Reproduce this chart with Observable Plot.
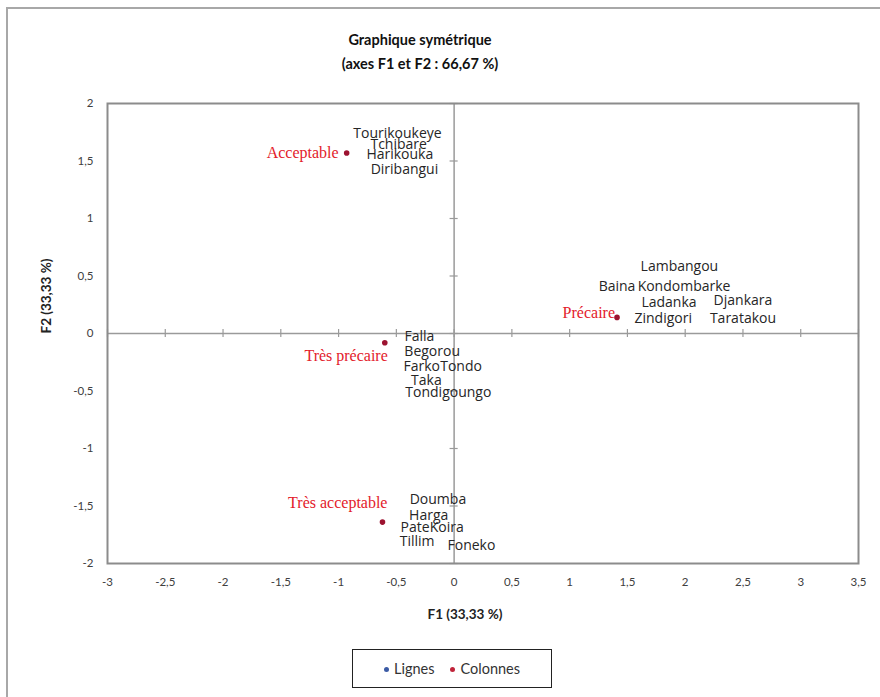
<!DOCTYPE html>
<html><head><meta charset="utf-8">
<script src="https://cdn.jsdelivr.net/npm/d3@7"></script>
<script src="https://cdn.jsdelivr.net/npm/@observablehq/plot@0.6"></script>
<style>
body{margin:0;background:#fff;}
#wrap{position:relative;width:880px;height:697px;overflow:hidden;background:#fff;}
#frame{position:absolute;left:6px;top:7px;width:900px;height:720px;border:2px solid #a8a8a8;box-sizing:border-box;}
#title{position:absolute;left:0;width:840px;top:28px;text-align:center;font:bold 14.5px Lato, sans-serif;line-height:24px;color:#111;}
#chart{position:absolute;left:0;top:0;}
#legend{position:absolute;left:352px;top:649px;width:200px;height:39px;border:1.5px solid #222;box-sizing:border-box;display:flex;align-items:center;justify-content:center;gap:16px;font:14.5px Lato, sans-serif;color:#333;}
.sw{display:inline-block;width:5px;height:5px;border-radius:50%;margin-right:5px;vertical-align:middle;position:relative;top:-1px;}
</style></head>
<body>
<div id="wrap">
  <div id="frame"></div>
  <div id="chart"></div>
  <div id="title">Graphique symétrique<br>(axes F1 et F2 : 66,67 %)</div>
  <div id="legend"><span><span class="sw" style="background:#3b5ba5"></span>Lignes</span><span><span class="sw" style="background:#c0243a"></span>Colonnes</span></div>
</div>
<script>
// Row points (villages)
const rowNames = ["Tourikoukeye","Tchibare","Harikouka","Diribangui","Lambangou","Baina","Kondombarke","Ladanka","Djankara","Zindigori","Taratakou","Falla","Begorou","Farko","Tondo","Taka","Tondigoungo","Doumba","Harga","PateKoira","Tillim","Foneko"];
const rowF1 = [-0.49,-0.48,-0.47,-0.43,1.95,1.41,1.99,1.86,2.50,1.81,2.50,-0.30,-0.19,-0.28,0.06,-0.24,-0.05,-0.14,-0.22,-0.19,-0.32,0.15];
const rowF2 = [1.74,1.64,1.56,1.43,0.58,0.41,0.41,0.27,0.29,0.13,0.13,-0.03,-0.16,-0.29,-0.29,-0.41,-0.51,-1.44,-1.58,-1.69,-1.81,-1.84];

// Column points (categories)
const colNames = ["Acceptable","Très précaire","Précaire","Très acceptable"];
const colF1 = [-0.93,-0.60,1.41,-0.62];
const colF2 = [1.57,-0.08,0.14,-1.64];

// Ticks
const xTicks = [-3,-2.5,-2,-1.5,-1,-0.5,0,0.5,1,1.5,2,2.5,3,3.5];
const yTicks = [-2,-1.5,-1,-0.5,0,0.5,1,1.5,2];

const rows = rowNames.map((name,i)=>({name, f1: rowF1[i], f2: rowF2[i]}));
const cols = colNames.map((name,i)=>({name, f1: colF1[i], f2: colF2[i]}));
const fmt = d => String(d).replace(".", ",");

// label placement style for the category labels
const colLabelStyle = {
  "Acceptable": {dx: -8, dy: 0},
  "Très précaire": {dx: 3, dy: 13},
  "Précaire": {dx: -2, dy: -5},
  "Très acceptable": {dx: 5, dy: -19}
};

const axisGray = "#9a9a9a";
const chart = Plot.plot({
  width: 880, height: 697,
  marginLeft: 107, marginRight: 22, marginTop: 103, marginBottom: 134,
  x: {domain: [-3, 3.5]},
  y: {domain: [-2, 2]},
  style: {background: "transparent", fontFamily: "Lato, sans-serif", fontSize: "11.5px", color: "#404040"},
  marks: [
    Plot.ruleX([0], {stroke: axisGray, strokeWidth: 1.5}),
    Plot.ruleY([0], {stroke: axisGray, strokeWidth: 1.5}),
    Plot.ruleX(xTicks, {x: d => d, y1: -0.035, y2: 0.035, stroke: axisGray, strokeWidth: 1.2}),
    Plot.ruleY(yTicks, {y: d => d, x1: -0.035, x2: 0.035, stroke: axisGray, strokeWidth: 1.2}),
    Plot.frame({stroke: "#8c8c8c", strokeWidth: 2}),
    Plot.axisX({ticks: xTicks, anchor: "bottom", tickSize: 0, tickPadding: 14, tickFormat: fmt, label: null}),
    Plot.axisY({ticks: yTicks, anchor: "left", tickSize: 0, tickPadding: 14, tickFormat: fmt, label: null}),
    Plot.text(["F1 (33,33 %)"], {frameAnchor: "bottom", dx: -18, dy: 55, fontWeight: "bold", fontSize: 13.5, fill: "#222"}),
    Plot.text(["F2 (33,33 %)"], {frameAnchor: "left", dx: -61, rotate: -90, fontWeight: "bold", fontSize: 13.5, fill: "#222"}),
    Plot.text(rows, {x: "f1", y: "f2", text: "name", fontFamily: "Open Sans, sans-serif", fontSize: 14, fill: "#262626"}),
    Plot.dot(cols, {x: "f1", y: "f2", r: 2.8, fill: "#9c1230"}),
    ...cols.map(c => Plot.text([c], {x: "f1", y: "f2", text: "name", textAnchor: "end",
      dx: colLabelStyle[c.name].dx, dy: colLabelStyle[c.name].dy,
      fontFamily: "Liberation Serif, serif", fontSize: 16, fill: "#e3202a"}))
  ]
});
document.getElementById("chart").appendChild(chart);
</script>
</body></html>
